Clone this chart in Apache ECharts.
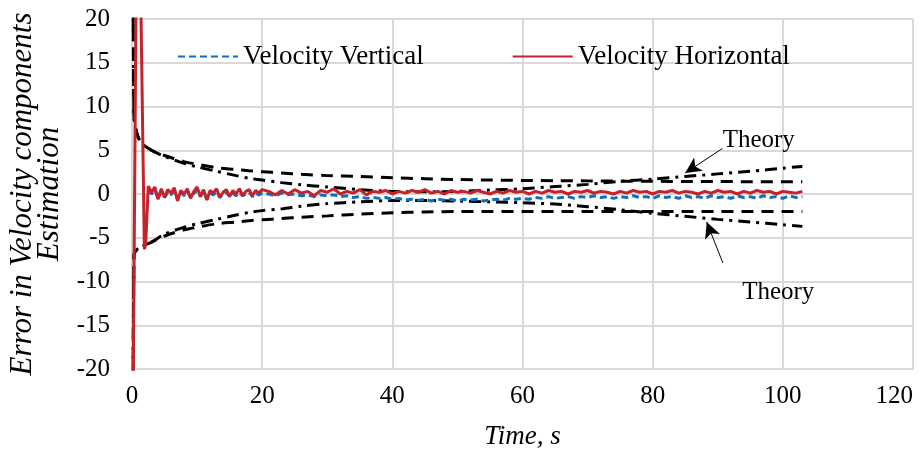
<!DOCTYPE html>
<html>
<head>
<meta charset="utf-8">
<script src="https://cdn.jsdelivr.net/npm/echarts@6/dist/echarts.min.js"></script>
<style>
html,body{margin:0;padding:0;background:#fff;}
#chart{width:924px;height:451px;}
</style>
</head>
<body>
<div id="chart"></div>
<script>
// ---- data ----
var xTicks = [0, 20, 40, 60, 80, 100, 120];
var yTicks = [-20, -15, -10, -5, 0, 5, 10, 15, 20];

var spikeTimeH = [0.1, 0.4, 0.7, 1.2, 1.9, 2.1];
var spikeValH  = [-30, -30, 30, 30, -6.3, -5.8];

var noiseTime = [2.5, 3, 3.5, 4, 4.5, 5, 5.5, 6, 6.5, 7, 7.5, 8, 8.5, 9, 9.5, 10, 10.5, 11, 11.5, 12, 12.5, 13, 13.5, 14, 14.5, 15, 15.5, 16, 16.5, 17, 17.5, 18, 18.5, 19, 19.5, 20,
  21, 22, 23, 24, 25, 26, 27, 28, 29, 30, 31, 32, 33, 34, 35, 36, 37, 38, 39, 40, 41, 42, 43, 44, 45, 46, 47, 48, 49, 50,
  51, 52, 53, 54, 55, 56, 57, 58, 59, 60, 61, 62, 63, 64, 65, 66, 67, 68, 69, 70, 71, 72, 73, 74, 75, 76, 77, 78, 79, 80,
  81, 82, 83, 84, 85, 86, 87, 88, 89, 90, 91, 92, 93, 94, 95, 96, 97, 98, 99, 100, 101, 102, 103];

var velHorizontal = [0.9, 0.2, 0.8, -0.6, 0.6, -0.4, 0.5, 0.1, 0.7, -0.8, 0.4, 0.0, 0.6, -0.5, 0.3, 0.8, -0.3, 0.5, -0.7, 0.4, 0.1, 0.6, -0.4, 0.2, 0.5, -0.3, 0.4, 0.0, 0.6, -0.2, 0.3, 0.5, -0.2, 0.4, 0.1, 0.5,
  0.3, -0.1, 0.4, 0.0, 0.5, 0.1, 0.3, -0.2, 0.4, 0.2, 0.6, 0.0, 0.3, 0.1, 0.5, -0.1, 0.3, 0.2, 0.4, 0.0, 0.3, 0.1, 0.4, 0.2, 0.5, 0.1, 0.3, 0.0, 0.4, 0.2,
  0.3, 0.1, 0.4, 0.2, 0.0, 0.3, 0.1, 0.4, 0.2, 0.3, 0.0, 0.3, 0.1, 0.4, 0.2, 0.3, 0.0, 0.3, 0.2, 0.4, 0.1, 0.3, 0.2, 0.0, 0.3, 0.1, 0.4, 0.2, 0.3, 0.0,
  0.3, 0.2, 0.4, 0.1, 0.3, 0.2, 0.0, 0.3, 0.1, 0.4, 0.2, 0.3, 0.0, 0.3, 0.1, 0.4, 0.2, 0.3, 0.0, 0.3, 0.2, 0.1, 0.3];

var velVertical = [0.4, 0.0, 0.5, -0.5, 0.3, -0.4, 0.2, -0.1, 0.4, -0.6, 0.2, -0.2, 0.3, -0.4, 0.1, 0.4, -0.3, 0.2, -0.6, 0.1, -0.1, 0.3, -0.4, 0.0, 0.2, -0.3, 0.1, -0.2, 0.2, -0.2, 0.0, 0.2, -0.3, 0.1, -0.1, 0.1,
  0.0, -0.2, 0.1, -0.1, 0.0, -0.2, -0.1, -0.3, -0.1, -0.2, -0.1, -0.3, -0.2, -0.4, -0.3, -0.5, -0.4, -0.5, -0.4, -0.6, -0.5, -0.7, -0.6, -0.7, -0.6, -0.8, -0.6, -0.7, -0.6, -0.8,
  -0.6, -0.7, -0.6, -0.8, -0.7, -0.6, -0.7, -0.5, -0.6, -0.5, -0.6, -0.4, -0.5, -0.3, -0.5, -0.4, -0.3, -0.5, -0.3, -0.4, -0.2, -0.4, -0.3, -0.5, -0.3, -0.4, -0.2, -0.4, -0.3, -0.5,
  -0.2, -0.4, -0.3, -0.5, -0.2, -0.4, -0.3, -0.5, -0.2, -0.4, -0.3, -0.5, -0.2, -0.4, -0.3, -0.5, -0.2, -0.4, -0.3, -0.5, -0.2, -0.4, -0.3];

var theoryTime = [0.05, 0.3, 0.8, 1.5, 3, 5, 8, 10, 13, 16, 18, 20, 23, 26, 30, 35, 40, 45, 50, 55, 60, 65, 70, 75, 80, 85, 90, 95, 100, 103];
var theoryDashUpper = [60, 9, 6.8, 5.8, 5.0, 4.4, 3.7, 3.4, 3.0, 2.8, 2.65, 2.55, 2.4, 2.25, 2.1, 2.0, 1.85, 1.75, 1.65, 1.6, 1.55, 1.52, 1.5, 1.47, 1.45, 1.43, 1.42, 1.41, 1.4, 1.4];
var theoryDashLower = [-60, -7, -6.3, -6.0, -5.5, -4.8, -4.1, -3.8, -3.4, -3.2, -3.05, -2.95, -2.8, -2.65, -2.5, -2.3, -2.15, -2.05, -2.0, -2.0, -2.0, -2.0, -2.0, -2.0, -2.0, -2.0, -2.0, -2.0, -2.0, -2.0];
var theoryDotUpper = [60, 9, 6.8, 5.8, 5.0, 4.3, 3.5, 3.1, 2.6, 2.1, 1.8, 1.6, 1.3, 1.05, 0.8, 0.5, 0.3, 0.25, 0.3, 0.45, 0.6, 0.85, 1.1, 1.45, 1.7, 2.0, 2.3, 2.6, 2.95, 3.15];
var theoryDotLower = [-60, -7, -6.3, -6.0, -5.5, -4.6, -3.8, -3.4, -2.9, -2.4, -2.1, -1.9, -1.7, -1.4, -1.1, -0.9, -0.75, -0.75, -0.8, -0.9, -1.0, -1.15, -1.45, -1.8, -2.2, -2.55, -2.9, -3.2, -3.5, -3.7];

var seriesNames = ['Velocity Vertical', 'Velocity Horizontal'];
var annoText = 'Theory';
var annoUpperText = [96.3, 6.1];
var annoUpperArrow = [[90.7, 5.2], [85.0, 2.4]];
var annoLowerText = [99.3, -11.2];
var annoLowerArrow = [[90.8, -7.9], [88.3, -3.2]];

// ---- build ----
function zip(t, v) { var o = []; for (var i = 0; i < t.length; i++) o.push([t[i], v[i]]); return o; }

var FONT = '"Liberation Serif","Times New Roman",serif';
var chart = echarts.init(document.getElementById('chart'), null, {renderer: 'canvas'});

function theorySeries(name, vals, dash) {
  return {
    name: name, type: 'line', data: zip(theoryTime, vals), showSymbol: false, symbol: 'none',
    smooth: 0.3, z: 3, clip: true,
    lineStyle: {color: '#000', width: 3, type: dash}
  };
}

var option = {
  animation: false,
  backgroundColor: '#fff',
  grid: {left: 132, right: 11, top: 19, bottom: 82, containLabel: false, outerBoundsMode: 'none'},
  legend: {
    data: seriesNames,
    left: 172, top: 38,
    itemWidth: 60, itemHeight: 14, itemGap: 88,
    itemStyle: {opacity: 0},
    textStyle: {fontFamily: FONT, fontSize: 27, color: '#000'}
  },
  xAxis: {
    type: 'value', min: 0, max: 120, interval: 20,
    name: 'Time, s', nameLocation: 'middle', nameGap: 54,
    nameTextStyle: {fontFamily: FONT, fontSize: 27, fontStyle: 'italic', color: '#000'},
    axisLine: {onZero: false, lineStyle: {color: '#d9d9d9', width: 2}},
    axisTick: {show: false},
    axisLabel: {fontFamily: FONT, fontSize: 25, color: '#000', margin: 15, alignMaxLabel: 'right'},
    splitLine: {show: true, lineStyle: {color: '#d9d9d9', width: 2}}
  },
  yAxis: {
    type: 'value', min: -20, max: 20, interval: 5,
    name: 'Error in Velocity components\nEstimation', nameLocation: 'middle', nameGap: 66, nameRotate: 90,
    nameTextStyle: {fontFamily: FONT, fontSize: 31, fontStyle: 'italic', color: '#000', lineHeight: 27},
    axisLine: {show: true, lineStyle: {color: '#d9d9d9', width: 2}},
    axisTick: {show: false},
    axisLabel: {fontFamily: FONT, fontSize: 25, color: '#000', margin: 22},
    splitLine: {show: true, lineStyle: {color: '#d9d9d9', width: 2}}
  },
  series: [
    theorySeries('TheoryDashUpper', theoryDashUpper, [12, 8]),
    theorySeries('TheoryDashLower', theoryDashLower, [12, 8]),
    theorySeries('TheoryDotUpper', theoryDotUpper, [12, 6, 3, 6]),
    theorySeries('TheoryDotLower', theoryDotLower, [12, 6, 3, 6]),
    {
      name: seriesNames[0], type: 'line', z: 4, showSymbol: false, symbol: 'none', clip: true,
      data: zip(noiseTime, velVertical),
      lineStyle: {color: '#0B6FC4', width: 3, type: [7, 4]},
      itemStyle: {color: '#0B6FC4'}
    },
    {
      name: seriesNames[1], type: 'line', z: 5, showSymbol: false, symbol: 'none', clip: true,
      data: zip(spikeTimeH.concat(noiseTime), spikeValH.concat(velHorizontal)),
      lineStyle: {color: '#C4232B', width: 3},
      itemStyle: {color: '#C4232B'},
      markLine: {
        silent: true, symbol: ['none', 'arrow'], symbolSize: [12, 16],
        label: {show: false},
        lineStyle: {color: '#000', width: 1, type: 'solid'},
        data: [
          [{coord: annoUpperArrow[0]}, {coord: annoUpperArrow[1]}],
          [{coord: annoLowerArrow[0]}, {coord: annoLowerArrow[1]}]
        ]
      },
      markPoint: {
        silent: true, symbol: 'circle', symbolSize: 0,
        label: {show: true, formatter: annoText, position: 'inside', fontFamily: FONT, fontSize: 25, color: '#000'},
        data: [{coord: annoUpperText}, {coord: annoLowerText}]
      }
    }
  ]
};
chart.setOption(option);
</script>
</body>
</html>
